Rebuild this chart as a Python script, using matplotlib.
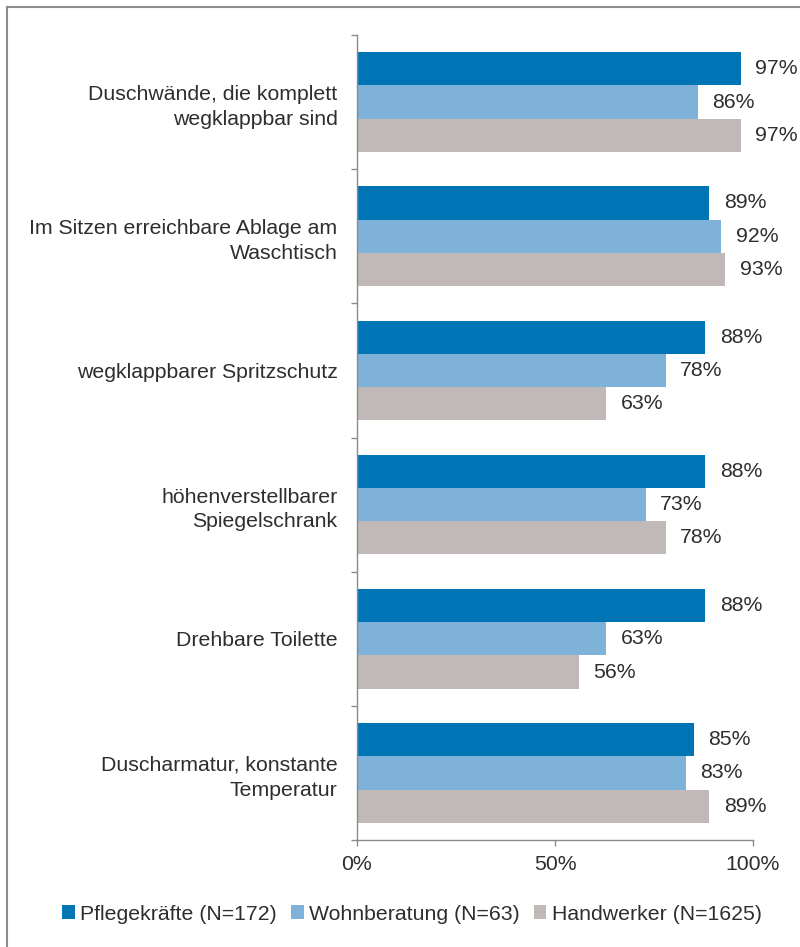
import matplotlib
matplotlib.use("Agg")
import matplotlib.pyplot as plt
from matplotlib.lines import Line2D
import numpy as np

plt.rcParams['font.family'] = ['Liberation Sans', 'DejaVu Sans']

categories = [
    "Duschwände, die komplett\nwegklappbar sind",
    "Im Sitzen erreichbare Ablage am\nWaschtisch",
    "wegklappbarer Spritzschutz",
    "höhenverstellbarer\nSpiegelschrank",
    "Drehbare Toilette",
    "Duscharmatur, konstante\nTemperatur",
]
series_names = ["Pflegekräfte (N=172)", "Wohnberatung (N=63)", "Handwerker (N=1625)"]
pflegekraefte = [97, 89, 88, 88, 88, 85]
wohnberatung = [86, 92, 78, 73, 63, 83]
handwerker = [97, 93, 63, 78, 56, 89]
x_ticks = [0, 50, 100]
x_tick_labels = ["0%", "50%", "100%"]

colors = ["#0075B5", "#7FB2D9", "#C0B9B7"]
text_color = "#2e2e2e"
axis_color = "#8a8a8a"
fs = 15.3

W, H = 800, 947
fig = plt.figure(figsize=(W / 100, H / 100), dpi=100)
ax = fig.add_axes([357 / W, 1 - 840 / H, (753 - 357) / W, (840 - 35) / H])

series = [pflegekraefte, wohnberatung, handwerker]
y = np.arange(len(categories))
bh = 0.248
for i, (vals, col, name) in enumerate(zip(series, colors, series_names)):
    pos = y + (i - 1) * bh
    bars = ax.barh(pos, vals, height=bh, color=col, label=name, edgecolor='none')
    for b, v in zip(bars, vals):
        ax.text(v + 3.6, b.get_y() + b.get_height() / 2, f"{v}%",
                va='center', ha='left', fontsize=fs, color=text_color, clip_on=False)

ax.set_xlim(0, 100)
ax.set_ylim(len(categories) - 0.5, -0.5)
ax.set_xticks(x_ticks)
ax.set_xticklabels(x_tick_labels, fontsize=fs, color=text_color)
ax.set_yticks(y)
ax.set_yticklabels(categories, fontsize=fs, color=text_color, ha='right',
                   multialignment='right')
for t in ax.get_yticklabels():
    t.set_linespacing(1.38)
ax.set_yticks(np.arange(-0.5, len(categories) + 0.5, 1), minor=True)
ax.tick_params(axis='y', which='major', length=0, pad=14)
ax.tick_params(axis='y', which='minor', length=4, width=1, color=axis_color, direction='out')
ax.tick_params(axis='x', which='major', length=4, width=1, color=axis_color, pad=7)

for s in ['top', 'right']:
    ax.spines[s].set_visible(False)
for s in ['left', 'bottom']:
    ax.spines[s].set_color(axis_color)
    ax.spines[s].set_linewidth(1)

leg = fig.legend(loc='center', bbox_to_anchor=(0.515, 1 - 914 / H), ncol=3,
                 frameon=False, fontsize=fs, handlelength=0.6, handleheight=0.6,
                 handletextpad=0.25, columnspacing=0.65, labelcolor=text_color)

# frame lines (left and top)
fig.add_artist(Line2D([6.5 / W, 6.5 / W], [0, 1 - 7.5 / H], transform=fig.transFigure,
                      color="#8c8c8c", lw=1.5))
fig.add_artist(Line2D([6.5 / W, 1], [1 - 7.5 / H, 1 - 7.5 / H], transform=fig.transFigure,
                      color="#8c8c8c", lw=1.5))

fig.savefig("out.png", dpi=100)
